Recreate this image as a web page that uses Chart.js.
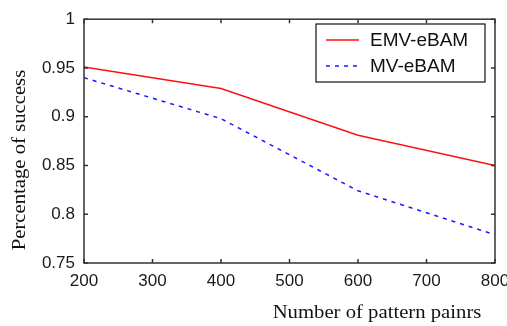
<!DOCTYPE html>
<html>
<head>
<meta charset="utf-8">
<script src="https://cdn.jsdelivr.net/npm/chart.js@4/dist/chart.umd.min.js"></script>
<style>
  html, body { margin: 0; padding: 0; background: #fff; }
  #wrap { width: 507px; height: 326px; }
</style>
</head>
<body>
<div id="wrap"><canvas id="chart" width="507" height="326"></canvas></div>
<script>
// pattern pairs on the x axis
const patternPairs = [200, 400, 600, 800];
const emvSuccess = [0.951, 0.929, 0.881, 0.850];
const mvSuccess = [0.940, 0.898, 0.824, 0.779];
const xTicks = [200, 300, 400, 500, 600, 700, 800];
const yTicks = [0.75, 0.8, 0.85, 0.9, 0.95, 1];

const seriesNames = ['EMV-eBAM', 'MV-eBAM'];
const xTitle = 'Number of pattern painrs';
const yTitle = 'Percentage of success';

const toPoints = vals => vals.map((v, i) => ({ x: patternPairs[i], y: v }));

// stretched text, the original is a bit wider than the font
function wideText(ctx, text, x, y, sx) {
  ctx.save();
  ctx.translate(x, y);
  ctx.scale(sx, 1);
  ctx.fillText(text, 0, 0);
  ctx.restore();
}

// matlab-ish frame, inward ticks, titles and boxed legend
const framePlugin = {
  id: 'frame',
  afterDraw(chart) {
    const { ctx, chartArea: a, scales } = chart;
    ctx.save();
    ctx.strokeStyle = '#333';
    ctx.lineWidth = 1.5;
    ctx.strokeRect(a.left, a.top, a.right - a.left, a.bottom - a.top);

    const tl = 4;
    ctx.beginPath();
    scales.x.ticks.forEach(t => {
      const px = scales.x.getPixelForValue(t.value);
      ctx.moveTo(px, a.bottom); ctx.lineTo(px, a.bottom - tl);
      ctx.moveTo(px, a.top); ctx.lineTo(px, a.top + tl);
    });
    scales.y.ticks.forEach(t => {
      const py = scales.y.getPixelForValue(t.value);
      ctx.moveTo(a.left, py); ctx.lineTo(a.left + tl, py);
      ctx.moveTo(a.right, py); ctx.lineTo(a.right - tl, py);
    });
    ctx.stroke();

    // axis titles
    ctx.fillStyle = '#111';
    ctx.font = '18px "Liberation Serif", "Times New Roman", serif';
    ctx.textAlign = 'center';
    ctx.textBaseline = 'middle';
    wideText(ctx, xTitle, 377, 313, 1.15);
    ctx.save();
    ctx.translate(20, 160);
    ctx.rotate(-Math.PI / 2);
    wideText(ctx, yTitle, 0, 0, 1.15);
    ctx.restore();

    // legend
    const lx = 316, ly = 24, lw = 169, lh = 58;
    ctx.fillStyle = '#fff';
    ctx.fillRect(lx, ly, lw, lh);
    ctx.strokeStyle = '#111';
    ctx.lineWidth = 1.2;
    ctx.strokeRect(lx, ly, lw, lh);
    ctx.font = '19px "Liberation Sans", Arial, sans-serif';
    ctx.textAlign = 'left';
    chart.data.datasets.forEach((ds, i) => {
      const y = ly + 16 + i * 26;
      ctx.strokeStyle = ds.borderColor;
      ctx.lineWidth = ds.borderWidth;
      ctx.setLineDash(ds.borderDash || []);
      ctx.beginPath();
      ctx.moveTo(lx + 10, y); ctx.lineTo(lx + 43, y);
      ctx.stroke();
      ctx.setLineDash([]);
      ctx.fillStyle = '#111';
      ctx.fillText(ds.label, lx + 54, y + 1);
    });
    ctx.restore();
  }
};

const tickFont = { family: '"Liberation Sans", Arial, sans-serif', size: 17 };

new Chart(document.getElementById('chart'), {
  type: 'line',
  data: {
    datasets: [
      {
        label: seriesNames[0],
        data: toPoints(emvSuccess),
        borderColor: '#ff1010',
        borderWidth: 1.5,
        pointRadius: 0,
        tension: 0,
        fill: false
      },
      {
        label: seriesNames[1],
        data: toPoints(mvSuccess),
        borderColor: '#1a1aff',
        borderWidth: 1.5,
        borderDash: [4, 5],
        pointRadius: 0,
        tension: 0,
        fill: false
      }
    ]
  },
  options: {
    responsive: false,
    animation: false,
    layout: { padding: { top: 15, right: 0, left: 0, bottom: 0 } },
    plugins: {
      legend: { display: false },
      tooltip: { enabled: false }
    },
    scales: {
      x: {
        type: 'linear',
        min: 200,
        max: 800,
        afterBuildTicks: s => { s.ticks = xTicks.map(v => ({ value: v })); },
        afterFit: s => { s.height = 63; s.paddingRight = 12; },
        grid: { display: false, drawTicks: false },
        border: { display: false },
        ticks: { padding: 8, color: '#1a1a1a', font: tickFont, maxRotation: 0 }
      },
      y: {
        min: 0.75,
        max: 1,
        afterBuildTicks: s => { s.ticks = yTicks.map(v => ({ value: v })); },
        afterFit: s => { s.width = 84; },
        grid: { display: false, drawTicks: false },
        border: { display: false },
        ticks: { padding: 9, color: '#1a1a1a', font: tickFont, callback: v => String(v) }
      }
    }
  },
  plugins: [framePlugin]
});
</script>
</body>
</html>
